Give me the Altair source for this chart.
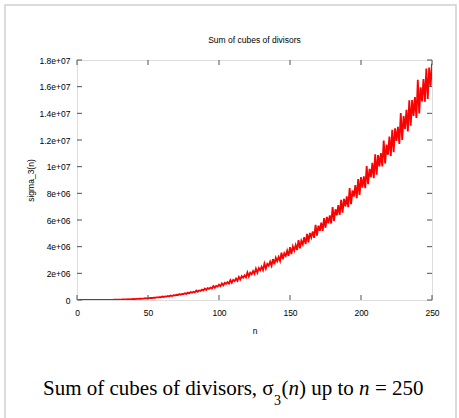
import altair as alt
import pandas as pd

# sigma_3(n) for n = 1..250
sigma3 = [
    1, 9, 28, 73, 126, 252, 344, 585, 757, 1134,
    1332, 2044, 2198, 3096, 3528, 4681, 4914, 6813, 6860, 9198,
    9632, 11988, 12168, 16380, 15751, 19782, 20440, 25112, 24390, 31752,
    29792, 37449, 37296, 44226, 43344, 55261, 50654, 61740, 61544, 73710,
    68922, 86688, 79508, 97236, 95382, 109512, 103824, 131068, 117993, 141759,
    137592, 160454, 148878, 183960, 167832, 201240, 192080, 219510, 205380, 257544,
    226982, 268128, 260408, 299593, 276948, 335664, 300764, 358722, 340704, 390096,
    357912, 442845, 389018, 455886, 441028, 500780, 458208, 553896, 493040, 589806,
    551881, 620298, 571788, 703136, 619164, 715572, 682920, 779220, 704970, 858438,
    756112, 888264, 834176, 934416, 864360, 1048572, 912674, 1061937, 1008324, 1149823,
    1030302, 1238328, 1092728, 1285830, 1213632, 1339902, 1225044, 1492120, 1295030, 1510488,
    1418312, 1610264, 1442898, 1728720, 1533168, 1780470, 1663886, 1848420, 1690416, 2063880,
    1772893, 2042838, 1929816, 2174816, 1968876, 2343672, 2048384, 2396745, 2226224, 2492532,
    2248092, 2722608, 2359840, 2706876, 2575440, 2874690, 2571354, 3066336, 2685620, 3164112,
    2907072, 3221208, 2927736, 3543517, 3073140, 3501162, 3303804, 3697742, 3307950, 3969252,
    3442952, 4013100, 3719898, 4123872, 3753792, 4492712, 3869894, 4437360, 4168584, 4718574,
    4185792, 4966929, 4330748, 5031306, 4699296, 5146092, 4657464, 5634720, 4829007, 5572476,
    5193020, 5804084, 5177718, 6146280, 5418344, 6235092, 5750640, 6344730, 5735340, 6962886,
    5929742, 6805008, 6355496, 7118280, 6382404, 7507584, 6545448, 7579152, 7031360, 7779240,
    6967872, 8388604, 7189058, 8214066, 7754544, 8613489, 7645374, 9074916, 7880600, 9214335,
    8421392, 9272718, 8390160, 10044216, 8684172, 9834552, 9211176, 10288838, 9137520, 10922688,
    9393932, 10868094, 10021536, 11025396, 10018008, 11957400, 10248448, 11655270, 10892504, 12251736,
    10800972, 12764808, 11089568, 12882456, 11923507, 12986082, 11697084, 14021840, 12008990, 13798512,
    12829824, 14268150, 12649338, 14974974, 13081824, 14992740, 13805120, 15213744, 13651920, 16514568,
    13997522, 15956037, 14900788, 16569686, 14867118, 17368344, 15078280, 17428320, 16010064, 17719884,
]
n_values = list(range(1, len(sigma3) + 1))

x_ticks = [0, 50, 100, 150, 200, 250]
x_tick_labels = ["0", "50", "100", "150", "200", "250"]
y_ticks = [0, 2000000, 4000000, 6000000, 8000000, 10000000, 12000000, 14000000, 16000000, 18000000]
y_tick_labels = ["0", "2e+06", "4e+06", "6e+06", "8e+06", "1e+07", "1.2e+07", "1.4e+07", "1.6e+07", "1.8e+07"]

title_text = "Sum of cubes of divisors"
x_title = "n"
y_title = "sigma_3(n)"

df = pd.DataFrame({"n": n_values, "sigma": sigma3})
xt = pd.DataFrame({"n": x_ticks})
yt = pd.DataFrame({"sigma": y_ticks})
dummy = alt.Data(values=[{"k": 0}])

W, H = 355, 240
FONT = "Liberation Sans"
FS = 8.5


def label_expr(vals, labels):
    expr = "''"
    for v, l in reversed(list(zip(vals, labels))):
        expr = f"datum.value == {v} ? '{l}' : ({expr})"
    return expr


xscale = alt.Scale(domain=[0, 250], nice=False, zero=False)
yscale = alt.Scale(domain=[0, 18000000], nice=False)

xaxis = alt.Axis(values=x_ticks, labelExpr=label_expr(x_ticks, x_tick_labels), title=x_title,
                 tickSize=0, domain=False, grid=False, labelFlush=False, labelOverlap=False,
                 labelFont=FONT, labelFontSize=FS, labelColor="black", labelPadding=8,
                 titleFont=FONT, titleFontSize=FS, titleFontWeight="normal", titleColor="black",
                 titlePadding=10)
yaxis = alt.Axis(values=y_ticks, labelExpr=label_expr(y_ticks, y_tick_labels), title=y_title,
                 tickSize=0, domain=False, grid=False, labelFlush=False, labelOverlap=False,
                 labelFont=FONT, labelFontSize=FS, labelColor="black", labelPadding=7,
                 titleFont=FONT, titleFontSize=FS, titleFontWeight="normal", titleColor="black",
                 titlePadding=4)

X = alt.X("n:Q", scale=xscale, axis=xaxis)
Y = alt.Y("sigma:Q", scale=yscale, axis=yaxis)

frame = alt.Chart(dummy).mark_rect(fill=None, stroke="#cfcfcf", strokeWidth=1.5).encode(
    x=alt.value(-72), x2=alt.value(379), y=alt.value(-55), y2=alt.value(380)
)

title = alt.Chart(dummy).mark_text(
    text=title_text, font=FONT, fontSize=FS, align="center", baseline="middle", color="black"
).encode(x=alt.value(W / 2), y=alt.value(-20))

line = alt.Chart(df).mark_line(color="#ff0000", strokeWidth=1.8, clip=True).encode(x=X, y=Y)

tick_color = "#505050"
xt_bottom = alt.Chart(xt).mark_rule(color=tick_color, strokeWidth=1).encode(x=X, y=alt.value(H), y2=alt.value(H - 5))
xt_top = alt.Chart(xt).mark_rule(color=tick_color, strokeWidth=1).encode(x=X, y=alt.value(0), y2=alt.value(5))
yt_left = alt.Chart(yt).mark_rule(color=tick_color, strokeWidth=1).encode(y=Y, x=alt.value(0), x2=alt.value(5))
yt_right = alt.Chart(yt).mark_rule(color=tick_color, strokeWidth=1).encode(y=Y, x=alt.value(W), x2=alt.value(W - 5))

# caption below the chart: "Sum of cubes of divisors, σ3(n) up to n = 250"
cap_fs = 21
cap_base = 335
cap_x0 = -34
def cap(text, dx, size=cap_fs, dy=0, style="normal"):
    return alt.Chart(dummy).mark_text(
        text=text, font="Liberation Serif", fontSize=size, fontStyle=style,
        align="left", baseline="alphabetic", color="black"
    ).encode(x=alt.value(cap_x0 + dx), y=alt.value(cap_base + dy))

caption = [
    cap("Sum of cubes of divisors, σ", 0),
    cap("3", 231, size=14, dy=10),
    cap("(", 238.5),
    cap("n", 245.5, style="italic"),
    cap(") up to", 256),
    cap("n", 316, style="italic"),
    cap("= 250", 332),
]

chart = alt.layer(frame, title, line, xt_bottom, xt_top, yt_left, yt_right, *caption).properties(
    width=W, height=H,
    padding={"left": 77, "top": 60, "right": 27, "bottom": 118},
    autosize=alt.AutoSizeParams(type="none"),
).configure_view(stroke="#505050", strokeWidth=1).configure(background="white")

chart.save("out.html", embed_options={"renderer": "svg", "actions": False})
